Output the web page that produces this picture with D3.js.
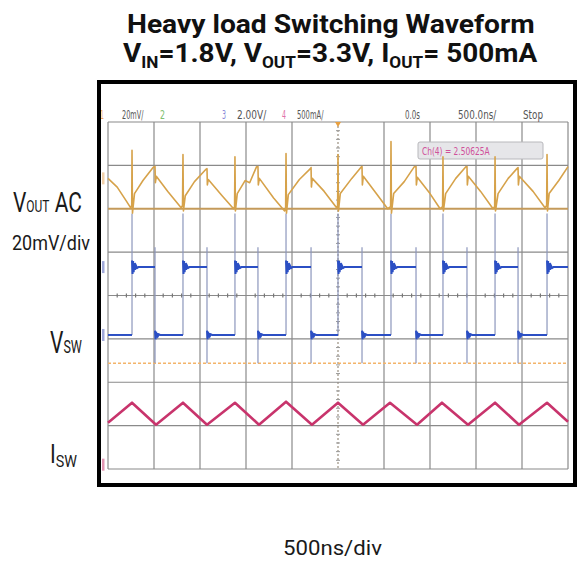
<!DOCTYPE html>
<html><head><meta charset="utf-8">
<script src="https://cdn.jsdelivr.net/npm/d3@7"></script>
<style>html,body{margin:0;padding:0;background:#fff;} svg{display:block}</style>
</head><body>
<svg id="c" width="580" height="564"></svg>
<script>
// ---------------- DATA ----------------
const gridTimeNs = [-2500,-2000,-1500,-1000,-500,0,500,1000,1500,2000,2500];
const gridDivs = [-4,-3,-2,-1,0,1,2,3,4];
const minorTicksDiv = [-4.8,-4.6,-4.4,-4.2,-3.8,-3.6,-3.4,-3.2,-2.8,-2.6,-2.4,-2.2,-1.8,-1.6,-1.4,-1.2,-0.8,-0.6,-0.4,-0.2,
  0.2,0.4,0.6,0.8,1.2,1.4,1.6,1.8,2.2,2.4,2.6,2.8,3.2,3.4,3.6,3.8,4.2,4.4,4.6,4.8];
const refLevelDiv = -1.56;        // orange dotted marker line
const voutRefDiv = 2;             // orange-tinted graticule line

const headerTexts = ["1","20mV/","2","3","2.00V/","4","500mA/","0.0s","500.0ns/","Stop"];
const measureText = "Ch(4) = 2.50625A";

// Channel 1 : Vout AC (mV), 20 mV/div
const voutPerDiv = 20, voutOffsetDiv = 2.5;
const voutT  = [-2500,-2400,-2300,-2255,-2242,
  -2239,-2234,-2212,-2120,-2010,
  -1989,-1985,-1975,-1850,-1705,-1690,
  -1685,-1680,-1660,-1560,-1440,
  -1424,-1420,-1410,-1260,-1135,-1124,
  -1120,-1115,-1095,-1010,-960,-885,
  -870,-866,-855,-700,-580,-569,
  -565,-560,-540,-420,-300,
  -293,-289,-280,-150,-15,-4,
  0,5,25,150,255,
  261,265,275,400,540,572,
  576,581,605,720,830,
  848,852,862,1000,1110,1137,
  1141,1146,1170,1280,1390,
  1402,1406,1416,1550,1685,1703,
  1707,1712,1740,1850,1945,
  1957,1961,1971,2120,2250,2268,
  2272,2277,2295,2400,2500];
const voutMv = [4,0,-6.5,-9.5,-8.5,
  17,-12,-3,3,9,
  9.5,2,5,-2,-9.5,-8.5,
  15,-11,-4,2.5,8,
  8.5,1,3.5,-4,-10,-9,
  14,-11,-3,3,2,9.4,
  9.5,1,4,-5,-11,-9.5,
  15.5,-12,-3.5,3.5,8.5,
  9,0,4,-2,-9.5,-8.5,
  15,-11,-3,4,9.4,
  9.5,1,5,-2,-10,-9,
  21,-12,-3,2.5,9.4,
  9.5,1,4.5,-3,-10,-9,
  14,-11,-3,4,9.4,
  9.5,1,5,-2,-10,-9,
  14,-11,-3,4,8.5,
  9,1,5,-2,-9.5,-8.5,
  15,-11,-3,3,9.4];

// Channel 3 : Vsw (V), 2 V/div
const vswPerDiv = 2, vswOffsetDiv = -0.91;
const vswRiseT = [-2239,-1685,-1120,-565,0,576,1141,1707,2272];
const vswFallT = [-1989,-1424,-870,-293,261,848,1402,1957];
const vswHigh = 3.13, vswLow = 0;
const vswRisePeak = 5.6, vswFallTop = 4.05, vswFallUnder = -1.3;
const ringDt = [0,6,12,18,24,32,42,55,70];
const ringHighDv = [0.3,-0.32,0.28,-0.24,0.18,-0.12,0.08,-0.04,0];
const ringLowDv  = [0.2,-0.2,0.15,-0.12,0.08,-0.05,0.03,0,0];

// Channel 4 : Isw (mA), 500 mA/div
const iswPerDiv = 500, iswOffsetDiv = -3.9;
const iswT  = [-2500,-2239,-1978,-1685,-1424,-1120,-859,-565,-283,0,272,565,859,1130,1413,1707,1967,2272,2500];
const iswMa = [484,714,461,714,461,714,461,726,461,714,461,714,461,714,461,714,461,714,495];

// ---------------- DRAW ----------------
const svg = d3.select("#c");
const x = d3.scaleLinear().domain([-2500,2500]).range([108,568]);
const yDiv = d3.scaleLinear().domain([-4,4]).range([469,122]);
const yVout = d3.scaleLinear().domain([0,voutPerDiv]).range([yDiv(voutOffsetDiv), yDiv(voutOffsetDiv+1)]);
const yVsw  = d3.scaleLinear().domain([0,vswPerDiv]).range([yDiv(vswOffsetDiv), yDiv(vswOffsetDiv+1)]);
const yIsw  = d3.scaleLinear().domain([0,iswPerDiv]).range([yDiv(iswOffsetDiv), yDiv(iswOffsetDiv+1)]);

svg.append("rect").attr("width",580).attr("height",564).attr("fill","#fff");

function fitText(parts, x0, base, targetW, opts) {
  const g = svg.append("g");
  const t = g.append("text").attr("x",0).attr("y",0)
    .attr("font-family", opts.font || "Roboto, 'DejaVu Sans', sans-serif")
    .attr("font-weight", opts.weight || 400)
    .attr("fill", opts.fill || "#1a1a1a");
  let cur = 0;
  parts.forEach(p => {
    const dy = (p.dy||0) - cur; cur = p.dy||0;
    t.append("tspan").attr("font-size", p.size).attr("dy", dy).text(p.t);
  });
  const bb = t.node().getBBox();
  g.attr("transform", `translate(${x0},${base}) scale(${targetW/bb.width},1) translate(${-bb.x},0)`);
  return g;
}

// Title
fitText([{t:"Heavy load Switching Waveform", size:25}], 127, 33, 408, {weight:700, fill:"#111"});
fitText([{t:"V",size:26},{t:"IN",size:16,dy:6},{t:"=1.8V, V",size:26},{t:"OUT",size:16,dy:6},
  {t:"=3.3V, I",size:26},{t:"OUT",size:16,dy:6},{t:"= 500mA",size:26}], 123, 62, 415, {weight:700, fill:"#111"});

// Scope graticule
const grid = svg.append("g");
grid.selectAll("line.v").data(gridTimeNs).join("line")
  .attr("x1", d=>x(d)).attr("x2", d=>x(d)).attr("y1", yDiv(4)).attr("y2", yDiv(-4))
  .attr("stroke", d => d===0 ? "#9a9080" : "#8a8a8a").attr("stroke-width", 1.2)
  .attr("stroke-dasharray", d => d===0 ? "2,2" : null);
grid.selectAll("line.h").data(gridDivs).join("line")
  .attr("x1", x(-2500)).attr("x2", x(2500)).attr("y1", d=>yDiv(d)).attr("y2", d=>yDiv(d))
  .attr("stroke", d => d===voutRefDiv ? "#c49a5a" : "#8a8a8a").attr("stroke-width", d => d===voutRefDiv ? 1.8 : 1.2);
grid.selectAll("line.mx").data(minorTicksDiv).join("line")
  .attr("x1", d=>x(d*500)).attr("x2", d=>x(d*500)).attr("y1", yDiv(0)-2).attr("y2", yDiv(0)+2)
  .attr("stroke","#777").attr("stroke-width",1.2);
grid.selectAll("line.my").data(minorTicksDiv.filter(d=>Math.abs(d)<4)).join("line")
  .attr("x1", x(0)-2).attr("x2", x(0)+2).attr("y1", d=>yDiv(d)).attr("y2", d=>yDiv(d))
  .attr("stroke","#999").attr("stroke-width",1);
grid.append("line").attr("x1",x(-2500)).attr("x2",x(2500))
  .attr("y1",yDiv(refLevelDiv)).attr("y2",yDiv(refLevelDiv))
  .attr("stroke","#f3b46a").attr("stroke-width",1.5).attr("stroke-dasharray","3,2");
svg.append("path").attr("d",`M${x(0)-3},${yDiv(4)} L${x(0)+3},${yDiv(4)} L${x(0)},${yDiv(4)+5}Z`).attr("fill","#e8a040");

[[yVout(4),"#e8b070"],[yVsw(vswHigh),"#6070c0"],[yVsw(0),"#6070c0"],[yIsw(0),"#d05080"]].forEach(([yy,c])=>{
  svg.append("rect").attr("x",102).attr("y",yy-6).attr("width",2.5).attr("height",12).attr("fill",c).attr("opacity",0.6);
});

// Header row
const hdrX = [100,122,160,222,237,282,297,405,458,523];
const hdrW = [4,22,5,4,30,4,27,15,39,20];
const hdrC = ["#f0a860","#555","#80c070","#8888d8","#555","#e070a8","#555","#555","#555","#555"];
headerTexts.forEach((s,i)=>{
  fitText([{t:s,size:12}], hdrX[i], 119, hdrW[i], {fill:hdrC[i], font:"'DejaVu Sans', sans-serif"});
});

svg.append("rect").attr("x",418).attr("y",142).attr("width",125).attr("height",17).attr("rx",2)
  .attr("fill","#e6e6e9").attr("stroke","#b8b8bc").attr("stroke-width",1);
fitText([{t:measureText,size:11}], 422, 155, 68, {fill:"#d0509a", font:"'DejaVu Sans', sans-serif"});

const line = d3.line();
// Isw
svg.append("path").attr("d", line(iswT.map((t,i)=>[x(t), yIsw(iswMa[i])])))
  .attr("fill","none").attr("stroke","#c8346c").attr("stroke-width",2.6).attr("stroke-linejoin","round");

// Vsw
const edges = vswRiseT.map(t=>({t,type:"r"})).concat(vswFallT.map(t=>({t,type:"f"}))).sort((a,b)=>a.t-b.t);
const vswG = svg.append("g");
edges.forEach(e=>{
  const [a,b] = e.type==="r" ? [vswLow, vswRisePeak] : [vswFallTop, vswFallUnder];
  vswG.append("line").attr("x1",x(e.t)).attr("x2",x(e.t)).attr("y1",yVsw(a)).attr("y2",yVsw(b))
    .attr("stroke","#8c96bc").attr("stroke-width",1.2);
});
const segs = [{t0:-2500, t1:edges[0].t, lvl:vswLow, ring:null}];
edges.forEach((e,i)=>{
  const t1 = i+1<edges.length ? edges[i+1].t : 2500;
  segs.push({t0:e.t, t1, lvl: e.type==="r"?vswHigh:vswLow, ring: e.type==="r"?ringHighDv:ringLowDv});
});
segs.forEach(s=>{
  const pts = [];
  if (s.ring) ringDt.forEach((dt,i)=>pts.push([x(s.t0+dt), yVsw(s.lvl+s.ring[i])]));
  else pts.push([x(s.t0), yVsw(s.lvl)]);
  pts.push([x(s.t1), yVsw(s.lvl)]);
  vswG.append("path").attr("d", line(pts)).attr("fill","none")
    .attr("stroke","#2b4fc4").attr("stroke-width",2);
});

// Vout: thin pale pass for spikes, then main trace
const voutPts = voutT.map((t,i)=>[x(t), yVout(voutMv[i])]);
svg.append("path").attr("d", line(voutPts))
  .attr("fill","none").attr("stroke","#d6a24a").attr("stroke-width",1.6).attr("stroke-linejoin","round");

// Black frame
svg.append("rect").attr("x",99).attr("y",82).attr("width",476).attr("height",403)
  .attr("fill","none").attr("stroke","#000").attr("stroke-width",4);

// Left labels
fitText([{t:"V",size:28},{t:"OUT",size:16},{t:" AC",size:28}], 13, 212, 69, {});
fitText([{t:"20mV/div",size:21}], 12, 250, 78, {});
fitText([{t:"V",size:32},{t:"SW",size:19}], 50, 353, 32, {});
fitText([{t:"I",size:25},{t:"SW",size:17,dy:4}], 50, 463, 27, {});
fitText([{t:"500ns/div",size:21}], 283, 555, 99, {});
</script>
</body></html>
